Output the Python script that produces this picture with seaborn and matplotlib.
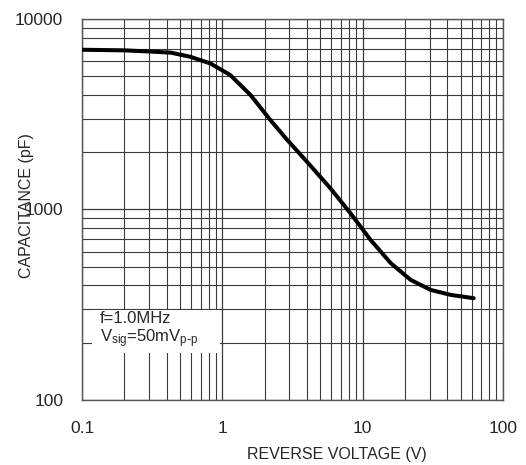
import matplotlib
matplotlib.use("Agg")
import matplotlib.pyplot as plt
import matplotlib.patches as mpatches
import seaborn as sns
import pandas as pd

# values
voltage = [0.1, 0.2, 0.31, 0.43, 0.59, 0.82, 1.14, 1.59, 2.2, 2.9, 4.1, 5.9,
           8.2, 11.4, 15.9, 22.0, 30.6, 42.5, 62.0]
capacitance = [6900, 6850, 6750, 6660, 6340, 5850, 5080, 3990, 2950, 2320, 1750, 1291,
               955, 692, 522, 427, 378, 356, 342]

x_ticks = [0.1, 1, 10, 100]
x_labels = ["0.1", "1", "10", "100"]
y_ticks = [100, 1000, 10000]
y_labels = ["100", "1000", "10000"]

df = pd.DataFrame({"voltage": voltage, "capacitance": capacitance})

sns.set_style("white")
plt.rcParams["font.family"] = ["Liberation Sans", "DejaVu Sans"]

fig = plt.figure(figsize=(5.26, 4.65), dpi=100)
ax = fig.add_axes([0.156, 0.140, 0.800, 0.819])

sns.lineplot(data=df, x="voltage", y="capacitance", color="black",
             linewidth=2.9, ax=ax, zorder=5, solid_joinstyle="round")

ax.set_xscale("log")
ax.set_yscale("log")
ax.set_xlim(0.1, 100)
ax.set_ylim(100, 10000)

ax.grid(which="major", color="#3a3a3a", linewidth=0.9)
ax.grid(which="minor", color="#3a3a3a", linewidth=0.8)
ax.set_axisbelow(True)

ax.set_xticks(x_ticks)
ax.set_xticklabels(x_labels, fontsize=12.5)
ax.set_yticks(y_ticks)
ax.set_yticklabels(y_labels, fontsize=12.5)
ax.tick_params(which="both", length=0)
ax.tick_params(axis="x", pad=15.5)
ax.tick_params(axis="y", pad=13.5)

for s in ax.spines.values():
    s.set_color("#555555")
    s.set_linewidth(1.0)

ax.set_xlabel("REVERSE VOLTAGE (V)", fontsize=11.5)
ax.set_ylabel("CAPACITANCE (pF)", fontsize=11.5)
ax.xaxis.set_label_coords(0.606, -0.123)
ax.yaxis.set_label_coords(-0.114, 0.51)

box = mpatches.Rectangle((0.024, 0.123), 0.304, 0.113, transform=ax.transAxes,
                         facecolor="white", edgecolor="none", zorder=3)
ax.add_patch(box)
ax.text(0.043, 0.213, "f=1.0MHz", transform=ax.transAxes, fontsize=12,
        va="center", zorder=4)
ax.text(0.043, 0.160, r"V$\mathregular{_{sig}}$=50mV$\mathregular{_{p\text{-}p}}$",
        transform=ax.transAxes, fontsize=12, va="center", zorder=4)

fig.savefig("out.png", dpi=100)
